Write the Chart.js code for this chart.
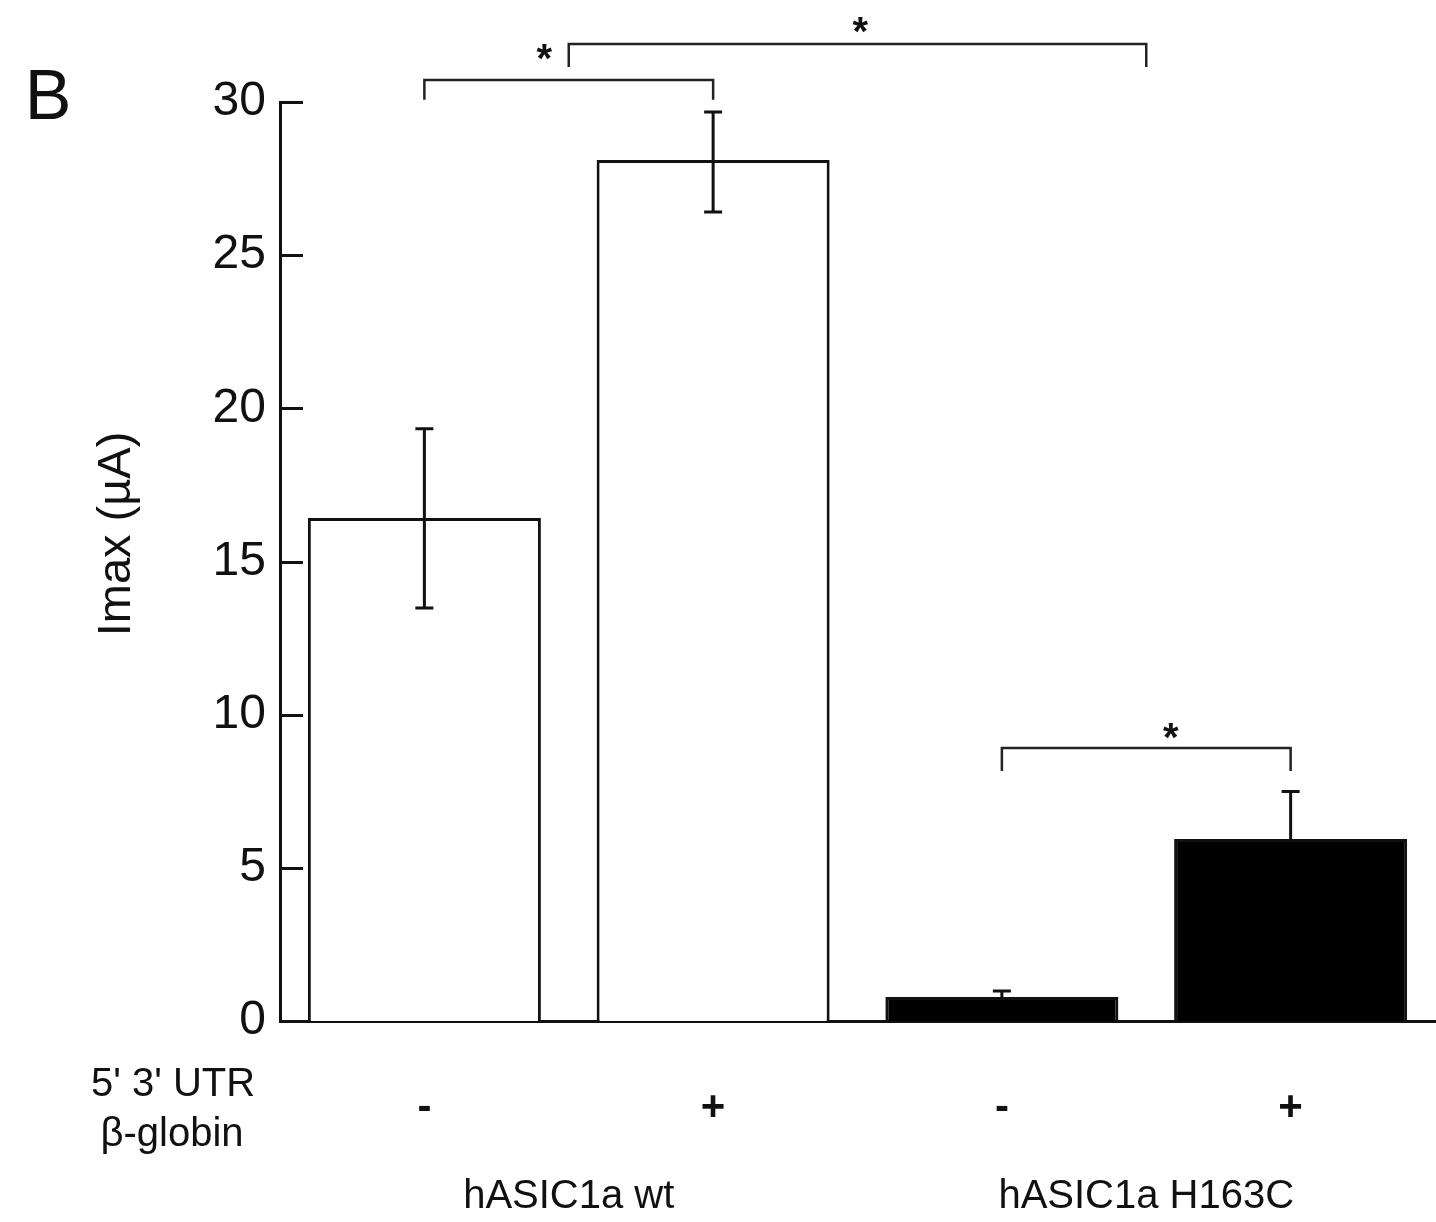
<!DOCTYPE html>
<html>
<head>
<meta charset="utf-8">
<script src="https://cdn.jsdelivr.net/npm/chart.js@4.4.1/dist/chart.umd.min.js"></script>
<style>
  html, body { margin: 0; padding: 0; background: #ffffff; }
  #wrap { width: 1436px; height: 1222px; }
</style>
</head>
<body>
<div id="wrap"><canvas id="c" width="1436" height="1222"></canvas></div>
<script>
// ---- data ----
const categories = ['-', '+', '-', '+'];
const groupLabels = ['hASIC1a wt', 'hASIC1a H163C'];
const groupCenters = [0.5, 2.5];
const means = [16.42, 28.11, 0.78, 5.94];
const errUp = [2.91, 1.56, 0.20, 1.55];
const errDown = [2.94, 1.70, 0, 0];
const barFills = ['#ffffff', '#ffffff', '#000000', '#000000'];
const yTickValues = [0, 5, 10, 15, 20, 25, 30];
const yMin = 0;
const yMax = 30;
const yTitle = 'Imax (\u00B5A)';
const rowLabel = ["5' 3' UTR", '\u03B2-globin'];
const panelLetter = 'B';
// significance brackets (category index from/to, level and leg end in data units)
const bracketFrom = [0, 0.5, 2];
const bracketTo = [1, 2.5, 3];
const bracketLevel = [30.72, 31.89, 8.91];
const bracketLeg = [30.07, 31.14, 8.16];
const starX = [0.415, 1.51, 2.585];
const starLevel = [31.62, 32.5, 9.48];
const starText = ['*', '*', '*'];

const INK = '#111111';
const FONT = '"Liberation Sans", Arial, Helvetica, sans-serif';

const annotate = {
  id: 'annotate',
  afterDatasetsDraw(chart) {
    const ctx = chart.ctx;
    const x = chart.scales.x, y = chart.scales.y;
    const meta = chart.getDatasetMeta(0);
    ctx.save();
    // inward y tick marks
    ctx.strokeStyle = INK;
    ctx.lineWidth = 3;
    yTickValues.forEach(v => {
      const py = Math.round(y.getPixelForValue(v)) + 0.5;
      ctx.beginPath();
      ctx.moveTo(chart.chartArea.left, py);
      ctx.lineTo(chart.chartArea.left + 23, py);
      ctx.stroke();
    });
    // error bars
    ctx.lineWidth = 3;
    meta.data.forEach((bar, i) => {
      const cx = bar.x;
      const top = y.getPixelForValue(means[i] + errUp[i]);
      const bot = y.getPixelForValue(means[i] - errDown[i]);
      const mid = y.getPixelForValue(means[i]);
      const cap = 9;
      ctx.beginPath();
      ctx.moveTo(cx, mid); ctx.lineTo(cx, top);
      ctx.moveTo(cx - cap, top); ctx.lineTo(cx + cap, top);
      if (errDown[i] > 0) {
        ctx.moveTo(cx, mid); ctx.lineTo(cx, bot);
        ctx.moveTo(cx - cap, bot); ctx.lineTo(cx + cap, bot);
      }
      ctx.stroke();
    });
    // brackets
    ctx.lineWidth = 2.5;
    ctx.strokeStyle = '#222222';
    bracketFrom.forEach((f, i) => {
      const x1 = x.getPixelForValue(f), x2 = x.getPixelForValue(bracketTo[i]);
      const yl = y.getPixelForValue(bracketLevel[i]);
      const yg = y.getPixelForValue(bracketLeg[i]);
      ctx.beginPath();
      ctx.moveTo(x1, yg); ctx.lineTo(x1, yl); ctx.lineTo(x2, yl); ctx.lineTo(x2, yg);
      ctx.stroke();
    });
    ctx.fillStyle = INK;
    ctx.font = 'bold 40px ' + FONT;
    ctx.textAlign = 'center';
    ctx.textBaseline = 'middle';
    starX.forEach((sx, i) => {
      ctx.fillText(starText[i], x.getPixelForValue(sx), y.getPixelForValue(starLevel[i]) + 9);
    });
    // group labels
    ctx.font = '40px ' + FONT;
    ctx.textBaseline = 'middle';
    groupCenters.forEach((g, i) => {
      ctx.fillText(groupLabels[i], x.getPixelForValue(g), 1197);
    });
    // row label
    ctx.fillText(rowLabel[0], 173, 1085);
    ctx.fillText(rowLabel[1], 172, 1135);
    // y title
    ctx.save();
    ctx.font = '47px ' + FONT;
    ctx.translate(117, 534);
    ctx.rotate(-Math.PI / 2);
    ctx.fillText(yTitle, 0, 0);
    ctx.restore();
    // panel letter
    ctx.font = '70px ' + FONT;
    ctx.fillText(panelLetter, 48, 100);
    ctx.restore();
  }
};

new Chart(document.getElementById('c'), {
  type: 'bar',
  data: {
    labels: categories,
    datasets: [{
      data: means,
      backgroundColor: barFills,
      borderColor: INK,
      borderWidth: 3,
      borderSkipped: 'bottom',
      categoryPercentage: 1.0,
      barPercentage: 0.807
    }]
  },
  options: {
    responsive: false,
    animation: false,
    devicePixelRatio: 1,
    layout: { padding: { top: 102, right: 1, left: 0, bottom: 0 } },
    plugins: { legend: { display: false }, tooltip: { enabled: false } },
    scales: {
      x: {
        grid: { display: false, drawTicks: false },
        border: { display: true, color: INK, width: 3 },
        ticks: { color: INK, font: { family: FONT, size: 42, weight: 'bold' }, padding: 62, maxRotation: 0 },
        afterFit: s => { s.height = 201; }
      },
      y: {
        min: yMin, max: yMax,
        afterBuildTicks: s => { s.ticks = yTickValues.map(v => ({ value: v })); },
        grid: { display: false, drawTicks: false },
        border: { display: true, color: INK, width: 3 },
        ticks: { color: INK, font: { family: FONT, size: 48 }, padding: 14 },
        afterFit: s => { s.width = 280; }
      }
    }
  },
  plugins: [annotate]
});
</script>
</body>
</html>
